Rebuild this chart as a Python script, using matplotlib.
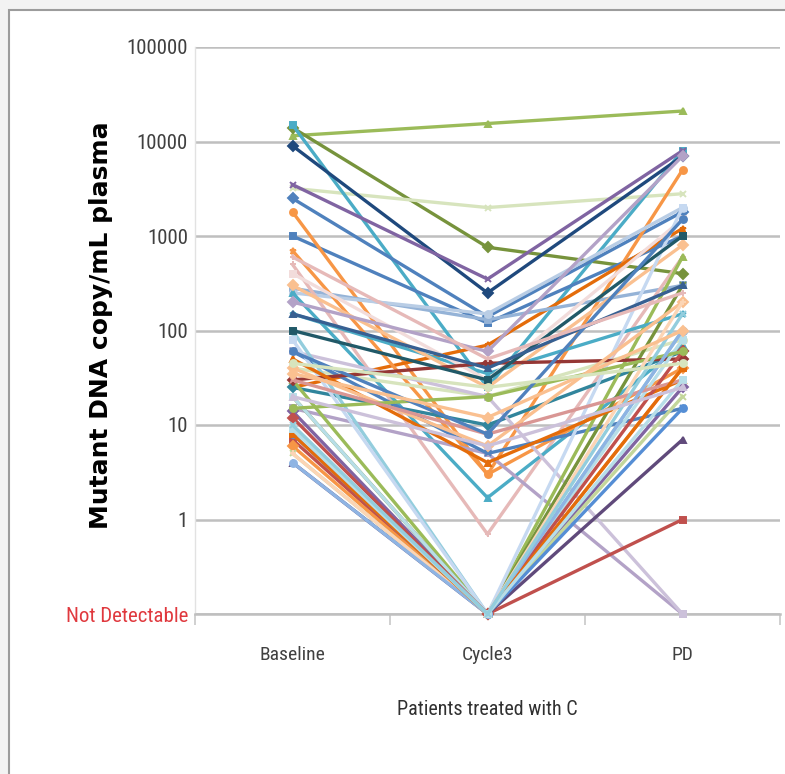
import matplotlib
matplotlib.use('Agg')
import matplotlib.pyplot as plt
from matplotlib import font_manager
from matplotlib.patches import Rectangle
from matplotlib.ticker import NullLocator, FixedLocator

# "Not Detectable" is plotted at 0.1 copies on the log axis
ND = 0.1

timepoints = ['Baseline', 'Cycle3', 'PD']

baseline = [11500, 14000, 3200, 15000, 9000, 3500, 2500, 1000, 1800, 25,
            280, 250, 500, 250, 700, 25, 40, 15, 60, 7,
            4, 14, 60, 6, 30, 20, 100, 150, 300, 400,
            80, 30, 50, 20, 5, 12, 8, 40, 15, 100,
            5, 30, 150, 4, 8, 200, 60, 9, 10, 35,
            45, 20, 600]
cycle3 = [15500, 760, 2000, 25, 250, 350, 140, 120, 3, 70,
          130, 150, 0.7, 1.7, 3, 10, 20, 5, 20, ND,
          ND, ND, 5, ND, ND, ND, ND, 35, 25, 30,
          ND, 45, 4, ND, ND, ND, ND, 6, 20, 30,
          ND, 8, 40, ND, ND, 60, 8, ND, ND, 12,
          25, 6, 50]
pd_values = [21000, 400, 2800, 8000, 7000, 8000, 1800, 1000, 5000, 1200,
             300, 2000, 600, 70, 40, 60, 80, ND, ND, 1,
             7, 25, 15, 40, 600, 300, 100, 150, 800, 1500,
             2000, 50, 30, 80, 20, 60, 15, 200, 60, 1000,
             200, 30, 300, 100, 40, 7000, 1500, 30, 150, 100,
             45, 25, 250]

ytick_values = [ND, 1, 10, 100, 1000, 10000, 100000]
ytick_labels = ['Not Detectable', '1', '10', '100', '1000', '10000', '100000']

# Excel-style series colours and markers
colors = ['#9BBB59', '#77933C', '#D7E4BD', '#4BACC6', '#1F497D', '#8064A2', '#4F81BD', '#4F81BD', '#F79646', '#E46C0A',
          '#95B3D7', '#B9CDE5', '#E6B9B8', '#4BACC6', '#F79646', '#31859C', '#D7E4BD', '#B3A2C7', '#CCC1DA', '#C0504D',
          '#604A7B', '#8064A2', '#4F81BD', '#F79646', '#9BBB59', '#77933C', '#93CDDD', '#4BACC6', '#FAC090', '#F2DCDB',
          '#C6D9F1', '#953735', '#E46C0A', '#B7DEE8', '#C3D69B', '#C0504D', '#558ED5', '#FABF8F', '#9BBB59', '#215968',
          '#FCD5B5', '#D99694', '#376092', '#8EB4E3', '#E46C0A', '#B3A2C7', '#4F81BD', '#B7DEE8', '#93CDDD', '#FAC090',
          '#D7E4BD', '#CCC1DA', '#E6B9B8']
markers = ['^', 'D', 'x', 's', 'D', 'x', 'D', 's', 'o', '*',
           's', 'o', '+', '^', '*', 'D', 'o', 's', 's', 's',
           '^', 'D', 'x', 'D', '^', 'x', 'o', '*', 'D', 's',
           's', 'D', '^', 's', 'x', 'D', 'o', 'D', 'o', 's',
           '+', 'x', '^', 'o', 's', 'D', 'o', 's', 'x', 'D',
           'o', '^', '+']

# pick a condensed face for the axis text if one is installed
installed = {f.name for f in font_manager.fontManager.ttflist}
narrow = next((n for n in ['Liberation Sans Narrow', 'DejaVu Sans Condensed', 'Roboto Condensed']
               if n in installed), 'Liberation Sans')
small = 15 if narrow != 'Liberation Sans' else 12.5

fig = plt.figure(figsize=(7.85, 7.74), dpi=100)
fig.patch.set_facecolor('#f3f3f3')
fig.patches.append(Rectangle((9 / 785, -0.1), 1.2, 1.1 - 10 / 774, transform=fig.transFigure,
                             facecolor='white', edgecolor='#9c9c9c', linewidth=1.5, zorder=-10))

ax = fig.add_axes([195 / 785, 160 / 774, 585 / 785, 567 / 774])
ax.set_facecolor('white')

x = list(range(len(timepoints)))
for i in range(len(baseline)):
    ax.plot(x, [baseline[i], cycle3[i], pd_values[i]], color=colors[i], linewidth=2.4,
            marker=markers[i], markersize=5, markeredgewidth=1.4, solid_joinstyle='miter',
            clip_on=False, zorder=3)

ax.set_yscale('log')
ax.set_ylim(ND, 100000)
ax.set_xlim(-0.5, 2.5)

ax.yaxis.set_major_locator(FixedLocator(ytick_values))
ax.yaxis.set_minor_locator(NullLocator())
ax.set_yticklabels(ytick_labels, fontfamily=narrow, fontsize=small, color='#404040')
ax.get_yticklabels()[0].set_color('#E0393E')
ax.tick_params(axis='y', length=0, pad=5)
ax.grid(axis='y', color='#BFBFBF', linewidth=1.8, zorder=1)
ax.set_axisbelow(True)

ax.set_xticks(x)
ax.set_xticklabels(timepoints, fontfamily=narrow, fontsize=small - 1, color='#404040')
ax.xaxis.set_minor_locator(FixedLocator([-0.5, 0.5, 1.5, 2.5]))
ax.tick_params(axis='x', which='major', length=0, pad=23)
ax.tick_params(axis='x', which='minor', length=8, width=1.2, color='#C8C8C8')

for side in ['top', 'right']:
    ax.spines[side].set_visible(False)
ax.spines['left'].set_color('#E2E2E2')
ax.spines['left'].set_linewidth(1.0)
ax.spines['bottom'].set_color('#BFBFBF')
ax.spines['bottom'].set_linewidth(1.8)

ax.set_xlabel('Patients treated with C', fontfamily=narrow, fontsize=small - 0.5, color='#303030')
ax.xaxis.set_label_coords(0.5, -0.152)
ax.set_ylabel('Mutant DNA copy/mL plasma', fontfamily='DejaVu Sans', fontweight='bold',
              fontsize=18, color='black')
ax.yaxis.set_label_coords(-0.141, 0.51)

fig.savefig('out.png', dpi=100, facecolor=fig.get_facecolor())
